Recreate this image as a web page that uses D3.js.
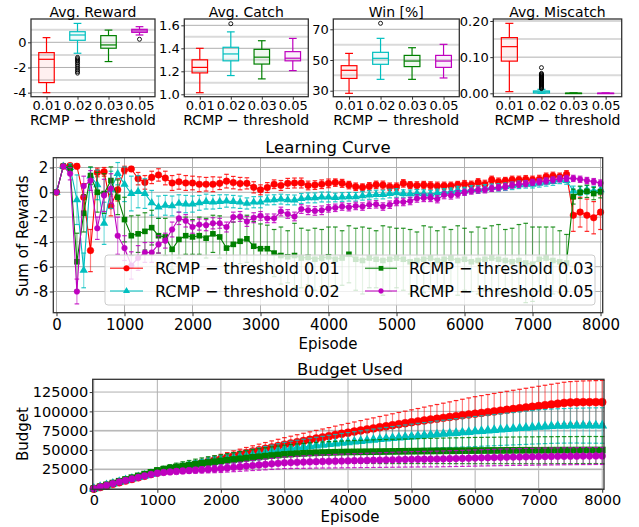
<!DOCTYPE html>
<html><head><meta charset="utf-8">
<script src="https://cdn.jsdelivr.net/npm/d3@7"></script>
<style>
body{margin:0;background:#fff}
text{font-family:"DejaVu Sans",sans-serif;fill:#000}
</style>
</head><body><svg id="c" width="639" height="527"></svg>
<script>
// ---------------- data ----------------
const thresholds = ["0.01","0.02","0.03","0.05"];
const seriesColors = ["#ff0000","#00bfbf","#008000","#bf00bf"];
const seriesMarkers = ["circle","triangle","square","circle"];

// box stats: [lowWhisker, q1, median, q3, highWhisker]
const rewardStats = [[-4.0,-3.2,-1.35,-0.82,0.37],[-0.87,0.16,0.58,0.84,1.5],[-1.53,-0.47,-0.21,0.53,0.97],[0.58,0.79,0.9,1.03,1.24]];
const rewardOutliers = [[],[-1.2,-1.3,-1.4,-1.5,-1.62,-1.75,-1.9,-2.05,-2.2,-2.33,-2.45],[],[0.24]];
const catchStats = [[1.014,1.186,1.234,1.3,1.4],[1.163,1.291,1.351,1.409,1.543],[1.134,1.263,1.323,1.391,1.466],[1.206,1.291,1.314,1.371,1.486]];
const catchOutliers = [[],[1.614],[],[]];
const winStats = [[28.3,38.0,43.3,46.3,54.3],[37.4,47.2,51.1,55.0,64.1],[37.4,45.7,49.3,53.0,58.0],[38.3,45.2,49.3,53.0,60.2]];
const winOutliers = [[],[73.9],[],[]];
const miscatchStats = [[0.0046,0.089,0.129,0.154,0.1935],[0.0,0.001,0.004,0.0065,0.011],[0,0,0,0.0005,0.001],[0,0,0,0.0004,0.0008]];
const miscatchOutliers = [[],[0.071,0.055,0.053,0.051,0.049,0.047,0.045,0.043,0.041,0.039,0.037,0.035,0.033,0.031,0.029,0.027,0.025,0.023,0.021,0.019,0.017,0.015,0.013],[],[]];

const episodes = d3.range(0, 8001, 100);

// learning curve (sum of rewards) means and std
const lcMean001 = [0,2.1,2.15,2.1,-0.4,-4.7,1.6,1.65,-1.1,0.2,
1.8,1.88,1.1,0.8,1.2,1.4,1.15,0.75,0.85,0.75,
0.75,0.65,0.65,0.65,0.72,0.9,0.78,0.7,0.72,0.4,
0.2,0.38,0.65,0.55,0.72,0.75,0.75,0.55,0.58,0.65,
0.72,0.78,0.72,0.58,0.45,0.4,0.48,0.6,0.58,0.45,
0.45,0.72,0.58,0.55,0.58,0.55,0.5,0.52,0.52,0.6,
0.65,0.6,0.8,0.65,1.0,0.85,0.92,1.0,1.0,1.05,
1.0,1.05,1.25,1.32,1.25,1.45,-1.85,-1.6,-1.85,-2.05,
-1.6];
const lcErr001 = [0,0.1,0.15,0.2,1.1,1.7,0.35,0.35,0.8,0.9,
0.3,0.2,0.5,0.55,0.5,0.5,0.55,0.6,0.6,0.6,
0.55,0.6,0.55,0.6,0.5,0.55,0.5,0.5,0.45,0.45,
0.4,0.4,0.35,0.4,0.4,0.4,0.4,0.35,0.35,0.35,
0.35,0.3,0.32,0.3,0.3,0.28,0.3,0.3,0.32,0.3,
0.3,0.3,0.28,0.3,0.3,0.3,0.32,0.3,0.3,0.28,
0.3,0.3,0.3,0.32,0.3,0.3,0.28,0.3,0.3,0.3,
0.3,0.32,0.3,0.3,0.3,0.3,1.3,1.2,1.3,1.3,
1.4];
const lcMean002 = [0,2.1,2.0,-0.6,-6.3,1.3,0.6,-2.5,0.2,1.5,
0.65,-0.1,0.05,-0.1,-0.85,-1.2,-1.05,-1.1,-0.9,-0.95,
-0.95,-0.85,-0.75,-0.8,-0.75,-0.7,-0.75,-0.8,-0.9,-0.8,
-0.8,-0.62,-0.6,-0.55,-0.6,-0.62,-0.5,-0.45,-0.45,-0.38,
-0.38,-0.42,-0.38,-0.36,-0.36,-0.28,-0.22,-0.18,-0.18,-0.1,
-0.05,-0.1,-0.12,-0.08,-0.1,-0.15,-0.05,0,0.05,0.18,
0.1,0.24,0.22,0.32,0.37,0.4,0.45,0.52,0.6,0.64,
0.65,0.72,0.8,0.86,1.0,0.95,0.1,0.1,0.2,0.12,
0.2];
const lcErr002 = [0,0.1,0.3,2.0,1.4,0.7,1.2,1.7,1.5,0.9,
1.4,1.4,1.3,1.2,1.0,0.9,0.8,0.8,0.7,0.7,
0.65,0.6,0.6,0.55,0.55,0.5,0.5,0.5,0.45,0.45,
0.45,0.4,0.4,0.4,0.4,0.4,0.4,0.4,0.4,0.4,
0.4,0.35,0.35,0.35,0.35,0.35,0.35,0.35,0.35,0.35,
0.35,0.3,0.3,0.3,0.3,0.3,0.3,0.3,0.3,0.3,
0.3,0.3,0.3,0.3,0.3,0.3,0.3,0.3,0.3,0.3,
0.3,0.3,0.3,0.3,0.3,0.3,0.4,0.35,0.35,0.35,
0.35];
const lcMean003 = [0,2.1,1.9,-5.6,-1.7,1.35,0,-0.1,0.95,-0.4,
-2.2,-3.5,-3.35,-3.15,-2.85,-3.5,-3.6,-4.6,-3.8,-3.5,
-3.6,-3.5,-3.7,-3.35,-3.6,-4.5,-4.2,-3.95,-3.75,-4.35,
-4.55,-4.55,-4.9,-5.1,-5.2,-5.1,-5.3,-5.25,-5.4,-5.3,
-5.2,-5.4,-5.3,-5.0,-5.4,-5.5,-5.3,-5.4,-5.5,-5.4,
-5.3,-5.4,-5.6,-5.5,-5.4,-5.3,-5.5,-5.4,-5.3,-5.5,
-5.4,-5.6,-5.5,-5.4,-5.3,-5.4,-5.5,-5.6,-5.5,-5.7,
-5.8,-5.4,-5.3,-5.5,-5.6,-5.7,-0.35,0.0,0.08,-0.1,
0.05];
const lcErr003 = [0,0.1,0.3,2.3,1.5,0.7,1.6,1.6,1.1,1.4,
1.8,1.6,1.5,1.5,1.4,1.4,1.5,1.6,1.5,1.5,
1.4,1.5,1.6,1.5,1.7,1.8,1.8,1.8,1.9,2.0,
2.0,1.9,1.9,2.3,2.1,2.6,2.4,2.2,2.5,2.3,
2.4,2.6,2.2,2.3,2.5,2.7,2.4,2.3,2.8,2.6,
2.4,2.5,2.6,2.3,2.7,2.5,2.4,2.6,2.3,2.8,
2.5,2.4,2.7,2.5,2.6,2.8,2.5,2.7,2.9,3.2,
3.0,2.6,2.5,2.7,2.5,2.3,0.6,0.5,0.5,0.5,
0.5];
const lcMean005 = [0,2.1,1.5,-8.0,0.5,0.95,-2.9,-0.25,0.3,-3.5,
-4.5,-5.9,-5.3,-4.85,-4.85,-4.2,-3.9,-3.0,-2.1,-2.3,
-2.8,-2.6,-2.65,-2.5,-2.5,-2.8,-2.0,-1.95,-2.35,-2.05,
-1.9,-2.1,-2.1,-1.55,-1.75,-1.95,-1.35,-1.45,-1.5,-1.45,
-1.3,-1.25,-1.15,-1.2,-1.1,-1.15,-1.0,-0.97,-1.15,-1.0,
-0.78,-0.78,-0.7,-0.5,-0.45,-0.45,-0.55,-0.22,-0.25,-0.15,
0,0.1,0.18,0.2,0.32,0.38,0.45,0.58,0.64,0.7,
0.8,0.85,0.92,1.0,1.08,1.12,1.12,1.05,0.95,0.86,
0.75];
const lcErr005 = [0,0.1,0.5,1.0,0.8,0.8,0.9,1.3,1.2,1.5,
1.0,1.1,1.0,0.8,0.8,0.7,0.6,0.6,0.5,0.5,
0.5,0.45,0.45,0.45,0.4,0.4,0.4,0.4,0.4,0.4,
0.35,0.35,0.35,0.35,0.35,0.35,0.35,0.35,0.35,0.35,
0.3,0.3,0.3,0.3,0.3,0.3,0.3,0.3,0.3,0.3,
0.3,0.3,0.3,0.3,0.3,0.3,0.3,0.3,0.3,0.3,
0.25,0.25,0.25,0.25,0.25,0.25,0.25,0.25,0.25,0.25,
0.25,0.25,0.25,0.25,0.25,0.25,0.25,0.25,0.25,0.25,
0.25];

// budget used
const budMean001 = [0,2100,4200,6300,8400,10500,12600,14700,16800,18900,
21000,22600,24200,25800,27400,29000,30900,32800,34700,36600,
38500,40400,42300,44200,46100,48000,49800,51600,53400,55200,
57000,58600,60200,61800,63300,64900,66400,67900,69500,71000,
72500,73900,75300,76700,78000,79400,80700,82100,83400,84700,
86000,87100,88300,89400,90500,91600,92700,93800,94900,96000,
97000,98000,99000,100000,101000,102000,103000,104000,105000,106000,
107000,108000,109000,110000,111000,111500,111800,112000,112000,112000,
112000];
const budErr001 = [0,300,600,900,1200,1500,1800,2100,2400,2700,
3000,3300,3600,3900,4200,4500,4800,5100,5400,5700,
6000,6300,6600,6900,7200,7500,7800,8100,8400,8700,
9000,9300,9600,9900,10200,10500,10800,11100,11400,11700,
12000,12400,12800,13200,13600,14000,14400,14800,15200,15600,
16000,16600,17200,17800,18400,19000,19600,20200,20800,21400,
22000,22400,22800,23200,23600,24000,24300,24600,24900,25200,
25500,25800,26100,26400,26700,27000,27200,27400,27600,27800,
28000];
const budMean002 = [0,2200,4400,6500,8700,10800,12900,14900,16900,19000,
21000,22800,24600,26300,28000,29700,31300,32800,34300,35700,
37000,38400,39800,41100,42400,43700,45000,46500,48000,49500,
51000,52000,53000,53900,54800,55700,56600,57500,58300,59200,
60000,60800,61600,62400,63200,64000,64700,65400,66100,66800,
67500,68200,68900,69500,70200,70800,71400,72000,72700,73300,
74000,74600,75200,75800,76400,77000,77600,78200,78800,79400,
80000,80400,80800,81100,81300,81500,81600,81600,81700,81700,
81700];
const budErr002 = [0,300,600,900,1200,1500,1800,2100,2400,2700,
3000,3300,3600,3900,4200,4500,4800,5100,5400,5700,
6000,6300,6600,6900,7200,7500,7800,8100,8400,8700,
9000,9400,9700,10100,10400,10800,11100,11500,11800,12200,
12500,12900,13200,13600,13900,14300,14600,15000,15300,15700,
16000,16400,16700,17100,17400,17800,18100,18500,18800,19200,
19500,19700,20000,20200,20500,20700,21000,21200,21500,21700,
22000,22100,22200,22300,22400,22500,22600,22700,22800,22900,
23000];
const budMean003 = [0,2400,4800,7200,9600,11900,14200,16500,18800,21100,
23500,25100,26600,28000,29300,30500,31700,32800,33900,34900,
35900,36900,37800,38700,39600,40500,41300,42100,42900,43600,
44300,44800,45300,45700,46100,46400,46700,46900,47100,47300,
47500,47600,47700,47800,47900,48000,48100,48200,48300,48400,
48500,48600,48700,48800,48900,49000,49050,49100,49200,49250,
49300,49350,49400,49450,49500,49550,49600,49650,49700,49700,
49700,49750,49800,49850,49900,49900,49950,50000,50000,50000,
50000];
const budErr003 = [0,350,700,1050,1400,1750,2100,2450,2800,3150,
3500,4000,4500,5000,5500,6000,6500,7000,7500,7800,
8000,8400,8800,9200,9600,10000,10400,10800,11200,11600,
12000,12300,12600,12900,13200,13500,13800,14000,14200,14400,
14500,14700,14900,15100,15300,15500,15600,15700,15800,15900,
16000,16100,16200,16300,16400,16500,16600,16700,16800,16900,
17000,17000,17100,17100,17200,17200,17300,17300,17400,17400,
17500,17500,17500,17500,17500,17500,17500,17500,17500,17500,
17500];
const budMean005 = [0,2200,4400,6600,8700,10800,12800,14700,16600,18400,
20000,21000,21700,22300,22900,23400,23900,24400,24900,25400,
26000,26800,27600,28400,29200,30000,30700,31400,32100,32800,
33500,33800,34100,34400,34700,35000,35200,35400,35600,35800,
36000,36200,36400,36600,36800,37000,37200,37400,37600,37800,
38000,38100,38200,38300,38400,38600,38800,39000,39200,39400,
39700,39900,40100,40300,40500,40700,40900,41000,41200,41300,
41500,41600,41700,41800,41900,42000,42100,42200,42200,42300,
42300];
const budErr005 = [0,250,500,750,1000,1250,1500,1750,2000,2250,
2500,2700,2900,3100,3300,3500,3800,4100,4400,4700,
5000,5300,5600,5900,6200,6500,6800,7000,7200,7400,
7500,7700,7900,8100,8300,8400,8500,8700,8800,8900,
9000,9100,9200,9300,9400,9500,9600,9700,9800,9900,
10000,10050,10100,10150,10200,10250,10300,10350,10400,10450,
10500,10550,10600,10650,10700,10750,10800,10850,10900,10950,
11000,11000,11000,11000,11000,11000,11000,11000,11000,11000,
11000];

const lcMeans = [lcMean001, lcMean002, lcMean003, lcMean005];
const lcErrs = [lcErr001, lcErr002, lcErr003, lcErr005];
const budMeans = [budMean001, budMean002, budMean003, budMean005];
const budErrs = [budErr001, budErr002, budErr003, budErr005];

// ---------------- drawing ----------------
const svg = d3.select("#c");
const FRAME = "#333";
const GRID = "#b0b0b0";
const GRID2 = "#dadada";

function styleAxis(g, size) {
  g.select(".domain").remove();
  g.selectAll(".tick line").attr("stroke", FRAME).attr("stroke-width", 1);
  g.selectAll(".tick text").attr("font-family", "DejaVu Sans").attr("font-size", size).attr("fill", "#000");
}
function hgrid(vals, x, y, color, w) {
  svg.append("g").selectAll("line").data(vals).join("line")
    .attr("x1", x.range()[0]).attr("x2", x.range()[1])
    .attr("y1", d => y(d)).attr("y2", d => y(d))
    .attr("stroke", color).attr("stroke-width", w);
}
function vgrid(vals, x, y, color, w) {
  svg.append("g").selectAll("line").data(vals).join("line")
    .attr("y1", y.range()[0]).attr("y2", y.range()[1])
    .attr("x1", d => x(d)).attr("x2", d => x(d))
    .attr("stroke", color).attr("stroke-width", w);
}
function frame(x, y) {
  const [x0, x1] = x.range(), [y1, y0] = y.range();
  svg.append("rect").attr("x", x0).attr("y", y0).attr("width", x1 - x0).attr("height", y1 - y0)
    .attr("fill", "none").attr("stroke", FRAME).attr("stroke-width", 1.3);
}
function fmtMinus(s) { return s.replace("\u2212", "-"); }

// ---- box panels ----
const boxPanels = [
  {title: "Avg. Reward", stats: rewardStats, out: rewardOutliers, xr: [31, 155], dom: [-4.32, 1.85], ticks: [-4, -2, 0], minor: [-3, -1, 1], fmt: d => fmtMinus(d3.format("d")(d))},
  {title: "Avg. Catch", stats: catchStats, out: catchOutliers, xr: [184.3, 308.3], dom: [0.979, 1.655], ticks: [1.0, 1.2, 1.4, 1.6], minor: [1.1, 1.3, 1.5], fmt: d3.format(".1f")},
  {title: "Win [%]", stats: winStats, out: winOutliers, xr: [333.3, 459.3], dom: [26.1, 76.7], ticks: [30, 50, 70], minor: [40, 60], fmt: d3.format("d")},
  {title: "Avg. Miscatch", stats: miscatchStats, out: miscatchOutliers, xr: [493.3, 621.7], dom: [-0.0094, 0.2055], ticks: [0, 0.1, 0.2], minor: [0.05, 0.15], fmt: d3.format(".2f")}
];
const boxTop = 19, boxBottom = 96.7;
boxPanels.forEach(p => {
  const x = d3.scaleLinear().domain([0.5, 4.5]).range(p.xr);
  const y = d3.scaleLinear().domain(p.dom).range([boxBottom, boxTop]);
  hgrid(p.minor, x, y, GRID2, 2);
  hgrid(p.ticks, x, y, GRID, 1);
  const bw = x(1.25) - x(1);
  p.stats.forEach((s, i) => {
    const cx = x(i + 1), c = seriesColors[i];
    const g = svg.append("g").attr("stroke", c).attr("fill", "none").attr("stroke-width", 1.2);
    g.append("line").attr("x1", cx).attr("x2", cx).attr("y1", y(s[0])).attr("y2", y(s[1]));
    g.append("line").attr("x1", cx).attr("x2", cx).attr("y1", y(s[3])).attr("y2", y(s[4]));
    g.append("line").attr("x1", cx - bw / 2).attr("x2", cx + bw / 2).attr("y1", y(s[0])).attr("y2", y(s[0]));
    g.append("line").attr("x1", cx - bw / 2).attr("x2", cx + bw / 2).attr("y1", y(s[4])).attr("y2", y(s[4]));
    g.append("rect").attr("x", cx - bw).attr("width", 2 * bw).attr("y", y(s[3])).attr("height", Math.max(0.5, y(s[1]) - y(s[3])))
      .attr("fill", c).attr("fill-opacity", 0.06);
    g.append("line").attr("x1", cx - bw).attr("x2", cx + bw).attr("y1", y(s[2])).attr("y2", y(s[2]));
    svg.append("g").selectAll("circle").data(p.out[i]).join("circle")
      .attr("cx", cx).attr("cy", d => y(d)).attr("r", 2)
      .attr("fill", "none").attr("stroke", "#000").attr("stroke-width", 0.9);
  });
  frame(x, y);
  const ax = svg.append("g").attr("transform", `translate(0,${boxBottom})`)
    .call(d3.axisBottom(x).tickValues([1, 2, 3, 4]).tickFormat((d, i) => thresholds[i]).tickSize(3).tickPadding(1.5));
  styleAxis(ax, 13);
  const ay = svg.append("g").attr("transform", `translate(${p.xr[0]},0)`)
    .call(d3.axisLeft(y).tickValues(p.ticks).tickFormat(p.fmt).tickSize(3).tickPadding(1.5));
  styleAxis(ay, 13);
  const mid = (p.xr[0] + p.xr[1]) / 2;
  svg.append("text").attr("x", mid).attr("y", 16.5).attr("text-anchor", "middle").attr("font-size", 14).text(p.title);
  svg.append("text").attr("x", mid).attr("y", 125).attr("text-anchor", "middle").attr("font-size", 14).text("RCMP \u2212 threshold");
});

// ---- markers ----
function marker(g, type, cx, cy, c, k) {
  if (type === "circle") {
    g.append("circle").attr("cx", cx).attr("cy", cy).attr("r", (c === seriesColors[3] ? 2.8 : 3.3) * k).attr("fill", c).attr("stroke", c).attr("stroke-width", 0.5);
  } else if (type === "triangle") {
    g.append("path").attr("transform", `translate(${cx},${cy})`).attr("d", d3.symbol(d3.symbolTriangle, 30 * k * k)()).attr("fill", c);
  } else {
    const s = 5.6 * k;
    g.append("rect").attr("x", cx - s / 2).attr("y", cy - s / 2).attr("width", s).attr("height", s).attr("fill", c);
  }
}

function seriesPlot(x, y, means, errs, k) {
  means.forEach((m, si) => {
    const c = seriesColors[si];
    const pts = episodes.map((e, i) => ({e, v: m[i], err: errs[si][i]}));
    const g = svg.append("g");
    const eb = g.append("g").attr("stroke", c).attr("stroke-width", 1.2);
    pts.forEach(p => {
      if (p.err <= 0) return;
      eb.append("line").attr("x1", x(p.e)).attr("x2", x(p.e)).attr("y1", y(p.v - p.err)).attr("y2", y(p.v + p.err)).attr("stroke-opacity", 0.5);
      [p.v - p.err, p.v + p.err].forEach(v => {
        eb.append("line").attr("x1", x(p.e) - 2.3).attr("x2", x(p.e) + 2.3).attr("y1", y(v)).attr("y2", y(v)).attr("stroke-opacity", 0.85);
      });
    });
    g.append("path").datum(pts).attr("fill", "none").attr("stroke", c).attr("stroke-width", 1.1)
      .attr("d", d3.line().x(d => x(d.e)).y(d => y(d.v)));
    pts.forEach(p => marker(g, seriesMarkers[si], x(p.e), y(p.v), c, k));
  });
}

// ---- learning curve ----
{
  const x = d3.scaleLinear().domain([-47, 8032]).range([53.3, 602.7]);
  const y = d3.scaleLinear().domain([-9.71, 2.79]).range([312.7, 157.7]);
  const yt = [-8, -6, -4, -2, 0, 2], xt = d3.range(0, 8001, 1000);
  vgrid(xt, x, y, GRID, 1);
  hgrid(yt, x, y, GRID, 1);
  seriesPlot(x, y, lcMeans, lcErrs, 1);
  frame(x, y);
  const ax = svg.append("g").attr("transform", "translate(0,312.7)")
    .call(d3.axisBottom(x).tickValues(xt).tickFormat(d3.format("d")).tickSize(3.5).tickPadding(3.5));
  styleAxis(ax, 15);
  const ay = svg.append("g").attr("transform", "translate(53.3,0)")
    .call(d3.axisLeft(y).tickValues(yt).tickFormat(d => fmtMinus(d3.format("d")(d))).tickSize(3.5).tickPadding(1.5));
  styleAxis(ay, 15);
  svg.append("text").attr("x", 328).attr("y", 153).attr("text-anchor", "middle").attr("font-size", 16.5).text("Learning Curve");
  svg.append("text").attr("x", 328).attr("y", 348.5).attr("text-anchor", "middle").attr("font-size", 15).text("Episode");
  svg.append("text").attr("transform", "translate(28,236) rotate(-90)").attr("text-anchor", "middle").attr("font-size", 15).text("Sum of Rewards");

  // legend
  const lg = svg.append("g");
  lg.append("rect").attr("x", 105).attr("y", 255).attr("width", 490).attr("height", 50).attr("rx", 3)
    .attr("fill", "#fff").attr("fill-opacity", 0.8).attr("stroke", "#cccccc").attr("stroke-width", 1);
  const cols = [[110, 143, 155], [365, 397, 409]], rows = [268.3, 291];
  thresholds.forEach((t, i) => {
    const col = cols[Math.floor(i / 2)], ry = rows[i % 2], c = seriesColors[i];
    lg.append("line").attr("x1", col[0]).attr("x2", col[1]).attr("y1", ry).attr("y2", ry).attr("stroke", c).attr("stroke-opacity", 0.7).attr("stroke-width", 1.5);
    marker(lg, seriesMarkers[i], (col[0] + col[1]) / 2, ry, c, 0.85);
    lg.append("text").attr("x", col[2]).attr("y", ry + 5.8).attr("font-size", 16).text("RCMP \u2212 threshold " + t);
  });
}

// ---- budget used ----
{
  const x = d3.scaleLinear().domain([-17, 8028]).range([92.7, 604]);
  const y = d3.scaleLinear().domain([-800, 141500]).range([489.3, 379.3]);
  const yt = [0, 25000, 50000, 75000, 100000, 125000], xt = d3.range(0, 8001, 1000);
  vgrid(xt, x, y, GRID, 1);
  hgrid([25000, 75000], x, y, GRID2, 2);
  hgrid(yt, x, y, GRID, 1);
  seriesPlot(x, y, budMeans, budErrs, 1.2);
  frame(x, y);
  const ax = svg.append("g").attr("transform", "translate(0,489.3)")
    .call(d3.axisBottom(x).tickValues(xt).tickFormat(d3.format("d")).tickSize(3.5).tickPadding(1.5));
  styleAxis(ax, 14.5);
  const ay = svg.append("g").attr("transform", "translate(92.7,0)")
    .call(d3.axisLeft(y).tickValues(yt).tickFormat(d3.format("d")).tickSize(3).tickPadding(1.5));
  styleAxis(ay, 14.5);
  svg.append("text").attr("x", 350).attr("y", 375).attr("text-anchor", "middle").attr("font-size", 16.5).text("Budget Used");
  svg.append("text").attr("x", 350).attr("y", 522).attr("text-anchor", "middle").attr("font-size", 15).text("Episode");
  svg.append("text").attr("transform", "translate(28,434) rotate(-90)").attr("text-anchor", "middle").attr("font-size", 15).text("Budget");
}
</script>
</body></html>
